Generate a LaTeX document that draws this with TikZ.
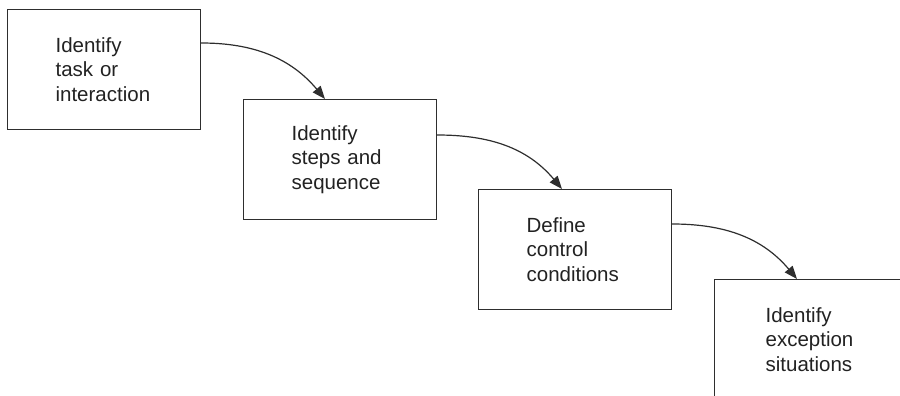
\documentclass[tikz,border=0pt]{standalone}
\usepackage{fontspec}
\setmainfont{Liberation Sans}
\usetikzlibrary{arrows.meta}
\definecolor{ln}{HTML}{2E2E2E}
\definecolor{tx}{HTML}{222222}
\begin{document}
\begin{tikzpicture}[x=1pt,y=1pt,
  stepbox/.style={draw=ln, line width=1.2pt, anchor=north west, minimum height=120pt,
    inner ysep=0pt, inner xsep=48pt, text width=97pt, align=left, text=tx,
    font=\fontsize{20.5}{24.5}\selectfont},
  flow/.style={draw=ln, line width=1.2pt, -{Triangle[length=13pt,width=10pt]}}]
\useasboundingbox (0,0) rectangle (900,-396);
\clip (0,0) rectangle (900,-396);
\node[stepbox] (b1) at (7,-9) {Identify\\task or\\interaction};
\node[stepbox] (b2) at (243,-99) {Identify\\steps and\\sequence};
\node[stepbox] (b3) at (478,-189) {Define\\control\\conditions};
\node[stepbox, inner xsep=51pt, text width=148pt] (b4) at (714,-279) {Identify\\exception\\situations};
\coordinate (e1) at (b1.north east |- 0,-43);
\coordinate (t2) at (325,-99);
\coordinate (e2) at (b2.north east |- 0,-135);
\coordinate (t3) at (562,-189);
\coordinate (e3) at (b3.north east |- 0,-224);
\coordinate (t4) at (797,-279);
\draw[flow] (e1) to[out=0, in=130] (t2);
\draw[flow] (e2) to[out=0, in=130] (t3);
\draw[flow] (e3) to[out=0, in=130] (t4);
\end{tikzpicture}
\end{document}
